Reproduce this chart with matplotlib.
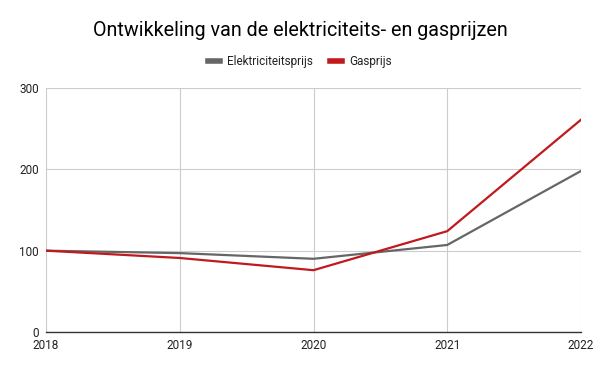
import matplotlib.pyplot as plt

plt.rcParams['font.family'] = ['Roboto', 'DejaVu Sans']

# data
jaren = ['2018', '2019', '2020', '2021', '2022']
elektriciteit = [100, 97, 90, 107, 198]
gas = [100, 91, 76, 124, 261]

COLOR_ELEK = '#666666'
COLOR_GAS = '#c0191e'
COLOR_GRID = '#cccccc'
COLOR_TEXT = '#222222'

fig = plt.figure(figsize=(6, 3.71), dpi=100)
ax = fig.add_axes([46/600, 39/371, 535/600, 244/371])

x = range(len(jaren))
ax.plot(x, elektriciteit, color=COLOR_ELEK, linewidth=1.6, label='Elektriciteitsprijs')
ax.plot(x, gas, color=COLOR_GAS, linewidth=1.6, label='Gasprijs')

ax.set_xlim(0, len(jaren) - 1)
ax.set_ylim(0, 300)
ax.set_xticks(list(x))
ax.set_xticklabels(jaren)
ax.set_yticks([0, 100, 200, 300])

ax.grid(True, color=COLOR_GRID, linewidth=0.8)
ax.set_axisbelow(True)
for s in ['top', 'right', 'left']:
    ax.spines[s].set_visible(False)
ax.spines['bottom'].set_color('#333333')
ax.spines['bottom'].set_linewidth(1)
ax.spines['bottom'].set_zorder(5)
ax.tick_params(length=0, labelsize=8.5, colors=COLOR_TEXT)
ax.tick_params(axis='x', pad=5)
ax.tick_params(axis='y', pad=5)

fig.text(0.5, (371 - 31) / 371, 'Ontwikkeling van de elektriciteits- en gasprijzen',
         ha='center', va='center', fontsize=14.2, color='#000000')

leg = fig.legend(loc='center', bbox_to_anchor=(0.5, (371 - 62) / 371), ncol=2,
                 frameon=False, fontsize=8.5, handlelength=1.0, handletextpad=0.6,
                 columnspacing=1.5)
for h in leg.legend_handles:
    h.set_linewidth(4)
for t in leg.get_texts():
    t.set_color(COLOR_TEXT)

fig.savefig('out.png', dpi=100, facecolor='white')
